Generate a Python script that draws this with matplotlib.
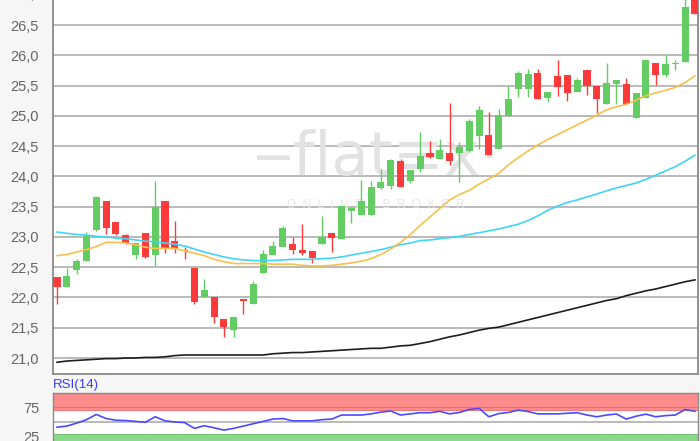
import matplotlib
matplotlib.use("Agg")
import matplotlib.pyplot as plt
import matplotlib.transforms as mtransforms
import numpy as np

# ---- data ----
opens = [22.34, 22.18, 22.45, 22.61, 23.12, 23.59, 23.25, 23.03, 22.70, 23.06,
         22.70, 23.59, 22.93, 22.78, 22.49, 22.01, 22.00, 21.64, 21.47, 21.97,
         21.89, 22.41, 22.70, 22.84, 22.89, 22.78, 22.76, 22.88, 23.06, 22.96,
         23.42, 23.37, 23.37, 23.81, 23.84, 24.25, 23.93, 24.13, 24.39, 24.28,
         24.39, 24.39, 24.42, 24.66, 24.69, 24.45, 25.00, 25.45, 25.44, 25.70,
         25.29, 25.65, 25.68, 25.39, 25.76, 25.50, 25.20, 25.52, 25.53, 24.97,
         25.30, 25.87, 25.68, 25.85, 25.89, 27.05]
highs = [22.34, 22.49, 22.64, 23.08, 23.67, 23.60, 23.25, 23.04, 22.90, 23.06,
         23.93, 23.59, 23.27, 22.84, 22.49, 22.31, 22.00, 21.64, 21.67, 21.97,
         22.27, 22.78, 22.94, 23.18, 23.00, 23.22, 22.76, 23.35, 23.06, 23.51,
         23.50, 23.94, 23.93, 24.13, 24.29, 24.28, 24.10, 24.74, 24.58, 24.61,
         25.21, 24.56, 24.94, 25.17, 25.06, 25.12, 25.50, 25.74, 25.77, 25.77,
         25.40, 25.92, 25.68, 25.63, 25.76, 25.50, 25.88, 25.59, 25.62, 25.38,
         25.92, 25.87, 26.00, 25.92, 27.10, 27.10]
lows = [21.89, 22.18, 22.38, 22.61, 23.10, 23.04, 23.03, 22.88, 22.63, 22.65,
        22.52, 22.74, 22.74, 22.63, 21.885, 22.00, 21.58, 21.35, 21.35, 21.72,
        21.89, 22.41, 22.70, 22.84, 22.72, 22.70, 22.57, 22.88, 22.75, 22.96,
        23.23, 23.37, 23.37, 23.79, 23.79, 23.82, 23.89, 24.08, 24.30, 24.28,
        24.19, 23.91, 24.40, 24.46, 24.36, 24.45, 25.00, 25.31, 25.31, 25.27,
        25.23, 25.33, 25.25, 25.39, 25.34, 25.05, 25.20, 25.20, 25.19, 24.97,
        25.30, 25.51, 25.64, 25.76, 25.89, 26.68]
closes = [22.18, 22.35, 22.61, 23.01, 23.66, 23.14, 23.04, 22.90, 22.90, 22.67,
          23.49, 22.80, 22.80, 22.76, 21.92, 22.12, 21.675, 21.51, 21.67, 21.94,
          22.22, 22.72, 22.85, 23.15, 22.78, 22.73, 22.66, 23.00, 22.99, 23.51,
          23.47, 23.60, 23.83, 23.90, 24.27, 23.82, 24.10, 24.33, 24.32, 24.44,
          24.25, 24.49, 24.92, 25.10, 24.36, 25.01, 25.27, 25.71, 25.69, 25.27,
          25.40, 25.48, 25.37, 25.59, 25.50, 25.28, 25.55, 25.59, 25.19, 25.38,
          25.92, 25.68, 25.85, 25.88, 26.80, 26.68]

ma_short = [22.69, 22.71, 22.75, 22.79, 22.84, 22.91, 22.91, 22.90, 22.87, 22.83,
            22.81, 22.81, 22.81, 22.77, 22.73, 22.69, 22.63, 22.59, 22.56, 22.56,
            22.56, 22.56, 22.55, 22.55, 22.55, 22.53, 22.52, 22.52, 22.53, 22.55,
            22.57, 22.60, 22.64, 22.71, 22.80, 22.91, 23.04, 23.19, 23.33, 23.47,
            23.61, 23.70, 23.77, 23.87, 23.96, 24.05, 24.19, 24.31, 24.42, 24.52,
            24.61, 24.69, 24.77, 24.85, 24.93, 25.01, 25.10, 25.15, 25.19, 25.26,
            25.33, 25.38, 25.42, 25.47, 25.55, 25.66]
ma_mid = [23.08, 23.06, 23.04, 23.03, 23.01, 23.00, 22.98, 22.97, 22.95, 22.93,
          22.92, 22.90, 22.88, 22.85, 22.80, 22.75, 22.71, 22.67, 22.64, 22.62,
          22.61, 22.61, 22.61, 22.62, 22.63, 22.63, 22.63, 22.64, 22.65, 22.67,
          22.70, 22.73, 22.76, 22.79, 22.83, 22.87, 22.90, 22.94, 22.95, 22.97,
          22.99, 23.01, 23.04, 23.07, 23.10, 23.13, 23.17, 23.21, 23.27, 23.35,
          23.44, 23.51, 23.57, 23.61, 23.66, 23.71, 23.76, 23.81, 23.85, 23.89,
          23.95, 24.02, 24.09, 24.16, 24.25, 24.35]
ma_long = [20.93, 20.95, 20.96, 20.97, 20.98, 20.99, 20.99, 21.00, 21.00, 21.01,
           21.01, 21.02, 21.04, 21.05, 21.05, 21.05, 21.05, 21.05, 21.05, 21.05,
           21.05, 21.05, 21.07, 21.08, 21.09, 21.09, 21.10, 21.11, 21.12, 21.13,
           21.14, 21.15, 21.16, 21.16, 21.18, 21.20, 21.21, 21.24, 21.27, 21.31,
           21.35, 21.38, 21.42, 21.46, 21.49, 21.51, 21.55, 21.59, 21.63, 21.67,
           21.71, 21.75, 21.79, 21.83, 21.87, 21.91, 21.95, 21.98, 22.03, 22.07,
           22.11, 22.14, 22.18, 22.22, 22.26, 22.29]
rsi = [41, 43, 48, 54, 63, 56, 53, 52.5, 51, 49.5,
       59, 52, 50, 49, 39, 43.5, 40, 36, 39, 43,
       47, 51, 55, 56, 52, 52, 52, 54, 55, 62,
       62, 62, 64, 67, 69, 62, 64, 66, 66, 68.4,
       64, 66.5, 71.5, 73.5, 59, 64.5, 66.5, 70.5, 68, 64,
       64, 64, 65, 66, 62, 59, 62, 63.8, 55, 60,
       63.5, 59, 61, 62, 71.5, 68.4]

price_ticks = [21.0, 21.5, 22.0, 22.5, 23.0, 23.5, 24.0, 24.5, 25.0, 25.5, 26.0, 26.5]
rsi_ticks = [25, 75]
rsi_label = "RSI(14)"

# ---- styling ----
plt.rcParams['font.family'] = ['Liberation Sans', 'DejaVu Sans']
W, H = 700, 441
fig = plt.figure(figsize=(W / 100, H / 100), dpi=100, facecolor='#f6f6f6')

L, R = 53, 698
ax = fig.add_axes([L / W, (H - 374) / H, (R - L) / W, 374 / H])
axr = fig.add_axes([L / W, 0, (R - L) / W, (H - 393) / H])

green = '#63cd63'
red = '#ff3a3a'
grid_c = '#b4b4b4'
spine_c = '#8a8a8a'
label_c = '#666666'

x = np.arange(len(opens))
o = np.array(opens); c = np.array(closes)
hi = np.array(highs); lo = np.array(lows)
up = c >= o
colors = np.where(up, green, red)

for yv in price_ticks:
    ax.axhline(yv, color=grid_c, lw=1.3, zorder=1)

ax.vlines(x, lo, hi, colors=colors, lw=1.0, zorder=3)
bottoms = np.minimum(o, c)
heights = np.maximum(np.abs(c - o), 0.02)
ax.bar(x, heights, bottom=bottoms, width=0.72, color=colors, zorder=4, linewidth=0)

ax.plot(x, ma_long, color='#1e1e1e', lw=1.2, zorder=5)
ax.plot(x, ma_mid, color='#40d4f8', lw=1.2, zorder=5)
ax.plot(x, ma_short, color='#f8c04a', lw=1.2, zorder=5)

# watermark
ax.text(0.502, 0.575, "\u2012flat\u2261x\u00b7", transform=ax.transAxes, ha='center', va='center',
        fontsize=44, color='#e2e2e2', zorder=2, fontfamily='DejaVu Sans')
ax.text(0.50, 0.452, "O  N  L  I  N  E      B  R  O  K  E  R", transform=ax.transAxes,
        ha='center', va='center', fontsize=8.5, color='#e6e6e6', zorder=2)

ax.set_xlim(-0.41, 65.31)
ax.set_ylim(20.736, 26.913)
ax.set_yticks(price_ticks)
ax.set_yticklabels([f"{v:.1f}".replace('.', ',') for v in price_ticks])
ax.tick_params(axis='y', length=0, pad=10, labelsize=10.5, labelcolor=label_c)
ax.set_xticks([])
trans = mtransforms.blended_transform_factory(ax.transAxes, ax.transData)
ax.text(-10 / (R - L), 27.0, "27,0", transform=trans, ha='right', va='center',
        fontsize=10.5, color=label_c, clip_on=False)
for s in ['left', 'bottom', 'right']:
    ax.spines[s].set_color(spine_c)
    ax.spines[s].set_linewidth(1.3)
ax.spines['top'].set_visible(False)
ax.set_facecolor('white')

# RSI panel
axr.set_facecolor('white')
axr.axhspan(70, 100, facecolor='#ff8c8c', edgecolor='#ee7a7a', lw=0.8, zorder=1)
axr.axhspan(0, 30, facecolor='#8cd88c', edgecolor='#74c474', lw=0.8, zorder=1)
axr.axhline(75, color='#e47070', lw=0.8, zorder=2)
axr.axhline(50, color=grid_c, lw=1.3, zorder=2)
axr.plot(x, rsi, color='#4a4aff', lw=1.2, zorder=3)
axr.set_xlim(-0.41, 65.31)
axr.set_ylim(17.2, 100)
axr.set_yticks(rsi_ticks)
axr.set_yticklabels([str(v) for v in rsi_ticks])
axr.tick_params(axis='y', length=0, pad=10, labelsize=10.5, labelcolor=label_c)
axr.set_xticks([])
for s in ['left', 'right', 'top']:
    axr.spines[s].set_color(spine_c)
    axr.spines[s].set_linewidth(1.0)
axr.spines['bottom'].set_visible(False)
fig.text(L / W, (H - 385) / H, rsi_label, ha='left', va='center', fontsize=9.5,
         color='#3a3aff')

fig.savefig("out.png", dpi=100, facecolor=fig.get_facecolor())
